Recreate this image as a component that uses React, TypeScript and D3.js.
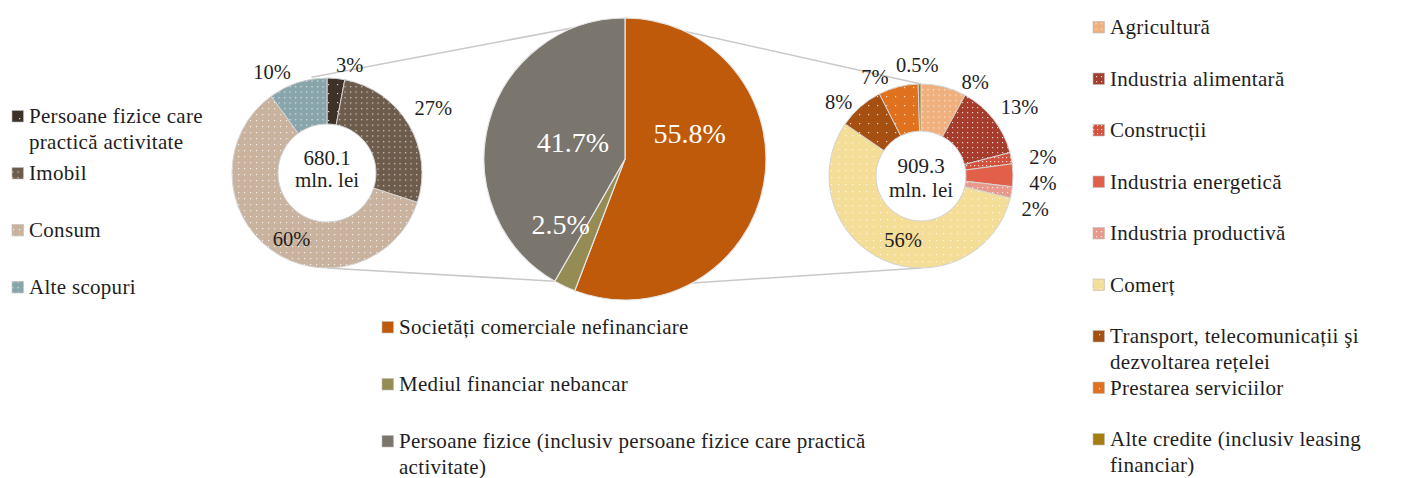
import { useEffect, useRef } from "react";
import * as d3 from "d3";

const W = 1402;
const H = 478;
const FONT = "'Liberation Serif', 'DejaVu Serif', serif";
const LEG_SIZE = 21;
const LEG_LS = 0.3;

// central pie: structure of loans by borrower
const mainCats = [
  "Societăți comerciale nefinanciare",
  "Mediul financiar nebancar",
  "Persoane fizice (inclusiv persoane fizice care practică activitate)",
];
const mainValues = [55.8, 2.5, 41.7];
const mainLabels = ["55.8%", "2.5%", "41.7%"];

// left donut: loans to individuals
const persCats = ["Persoane fizice care practică activitate", "Imobil", "Consum", "Alte scopuri"];
const persValues = [3, 27, 60, 10];
const persLabels = ["3%", "27%", "60%", "10%"];
const persTotal = "680.1";

// right donut: loans to companies
const compCats = [
  "Agricultură",
  "Industria alimentară",
  "Construcții",
  "Industria energetică",
  "Industria productivă",
  "Comerț",
  "Transport, telecomunicații şi dezvoltarea rețelei",
  "Prestarea serviciilor",
  "Alte credite (inclusiv leasing financiar)",
];
const compValues = [8, 13, 2, 4, 2, 56, 8, 7, 0.5];
const compLabels = ["8%", "13%", "2%", "4%", "2%", "56%", "8%", "7%", "0.5%"];
const compTotal = "909.3";
const unit = "mln. lei";

// styles
const mainColors = ["#c05a0b", "#958b55", "#7a766d"];
const persColors = ["#3e3128", "#6d5b4b", "#c9b29e", "#88a5ab"];
const persDots = [9, 5.5, 6, 5.5];
const compColors = ["#efb07e", "#a63c2b", "#d4503b", "#e2604a", "#e8998c", "#f3dd97", "#a54f10", "#e0711f", "#a57c10"];
const compDots = [5.5, 5, 4, 0, 5, 7, 9, 9, 0];

// label nudges (dx, dy) from the arc centroids
const mainNudge = [[-19, -41], [-28, -11], [30, 5]];
const persNudge = [[12, 4], [9, -7], [31, -25], [-20, 6]];
const compNudge = [[27, 13], [12, -1], [14, 2], [12, 8], [6, 13], [27, -36], [-10, 9], [-19, 8], [-2, -1]];

const measureCtx = typeof document !== "undefined" ? document.createElement("canvas").getContext("2d") : null;
function wrap(text: string, maxW: number) {
  if (!measureCtx) return [text];
  measureCtx.font = `${LEG_SIZE}px 'Liberation Serif'`;
  const width = (t: string) => measureCtx.measureText(t).width + t.length * LEG_LS;
  const words = text.split(" ");
  const lines: string[] = [];
  let cur = "";
  words.forEach((w) => {
    const t = cur ? cur + " " + w : w;
    if (width(t) > maxW && cur) {
      lines.push(cur);
      cur = w;
    } else cur = t;
  });
  if (cur) lines.push(cur);
  return lines;
}

function pt(cx: number, cy: number, r: number, a: number): [number, number] {
  return [cx + r * Math.sin(a), cy - r * Math.cos(a)];
}

export default function App() {
  const ref = useRef<SVGSVGElement>(null);

  useEffect(() => {
    document.body.style.margin = "0";
    const svg = d3.select(ref.current);
    svg.selectAll("*").remove();

    const defs = svg.append("defs");
    const fillFor = (id: string, color: string, step: number) => {
      if (!step) return color;
      const p = defs.append("pattern")
        .attr("id", id)
        .attr("patternUnits", "userSpaceOnUse")
        .attr("width", step)
        .attr("height", step);
      p.append("rect").attr("width", step).attr("height", step).attr("fill", color);
      p.append("rect").attr("x", 1).attr("y", 1).attr("width", 1.2).attr("height", 1.2)
        .attr("fill", "#fff").attr("opacity", 0.8);
      return `url(#${id})`;
    };
    const persFill = persColors.map((c, i) => fillFor("pf" + i, c, persDots[i]));
    const compFill = compColors.map((c, i) => fillFor("cf" + i, c, compDots[i]));

    const pie = d3.pie<number>().sort(null).value((d) => d);

    const main = { cx: 625, cy: 159, r: 141 };
    const left = { cx: 327, cy: 173, r: 95, ri: 49 };
    const right = { cx: 921, cy: 176, r: 92, ri: 45 };

    const mainArcs = pie(mainValues);
    const persArcs = pie(persValues);
    const compArcs = pie(compValues);

    // connector lines
    const conn = svg.append("g").attr("stroke", "#c9c9c9").attr("stroke-width", 1.6);
    const lines = [
      [pt(main.cx, main.cy, main.r, mainArcs[2].endAngle), pt(left.cx, left.cy, left.r + 2, -0.16)],
      [pt(main.cx, main.cy, main.r, mainArcs[2].startAngle), pt(left.cx, left.cy, left.r, Math.PI)],
      [pt(main.cx, main.cy, main.r, mainArcs[0].startAngle), pt(right.cx, right.cy, right.r, 0)],
      [pt(main.cx, main.cy, main.r, mainArcs[0].endAngle), pt(right.cx, right.cy, right.r, Math.PI)],
    ];
    lines.forEach(([a, b]) => {
      conn.append("line").attr("x1", a[0]).attr("y1", a[1]).attr("x2", b[0]).attr("y2", b[1]);
    });

    // central pie
    const mArc = d3.arc<d3.PieArcDatum<number>>().innerRadius(0).outerRadius(main.r);
    const mLab = d3.arc<d3.PieArcDatum<number>>().innerRadius(85).outerRadius(85);
    const gm = svg.append("g").attr("transform", `translate(${main.cx},${main.cy})`);
    gm.selectAll("path").data(mainArcs).join("path")
      .attr("d", mArc)
      .attr("fill", (_, i) => mainColors[i])
      .attr("stroke", "#e6e6e6").attr("stroke-width", 1.2);
    gm.selectAll("text").data(mainArcs).join("text")
      .attr("x", (d, i) => mLab.centroid(d)[0] + mainNudge[i][0])
      .attr("y", (d, i) => mLab.centroid(d)[1] + mainNudge[i][1])
      .attr("text-anchor", "middle").attr("dominant-baseline", "central")
      .attr("font-family", FONT).attr("font-size", 28).attr("fill", "#fff")
      .text((_, i) => mainLabels[i]);

    // donuts
    const donut = (
      c: { cx: number; cy: number; r: number; ri: number },
      arcs: d3.PieArcDatum<number>[], fills: string[], labels: string[],
      nudge: number[][], total: string, dy: [number, number]
    ) => {
      const arc = d3.arc<d3.PieArcDatum<number>>().innerRadius(c.ri).outerRadius(c.r);
      const lab = d3.arc<d3.PieArcDatum<number>>().innerRadius(c.r + 18).outerRadius(c.r + 18);
      const g = svg.append("g").attr("transform", `translate(${c.cx},${c.cy})`);
      g.selectAll("path").data(arcs).join("path")
        .attr("d", arc)
        .attr("fill", (_, i) => fills[i])
        .attr("stroke", "#d4d4d4").attr("stroke-width", 1);
      g.selectAll("text.lab").data(arcs).join("text")
        .attr("class", "lab")
        .attr("x", (d, i) => lab.centroid(d)[0] + nudge[i][0])
        .attr("y", (d, i) => lab.centroid(d)[1] + nudge[i][1])
        .attr("text-anchor", "middle").attr("dominant-baseline", "central")
        .attr("font-family", FONT).attr("font-size", 20.5).attr("fill", "#1e1e1e")
        .text((_, i) => labels[i]);
      [total, unit].forEach((t, i) => {
        g.append("text").attr("x", 0).attr("y", dy[i])
          .attr("text-anchor", "middle")
          .attr("font-family", FONT).attr("font-size", 21).attr("fill", "#1e1e1e")
          .text(t);
      });
    };
    donut(left, persArcs, persFill, persLabels, persNudge, persTotal, [-8, 14]);
    donut(right, compArcs, compFill, compLabels, compNudge, compTotal, [-3, 21]);

    // legends
    const legend = (
      cats: string[], fills: string[], x: number, y0: number, slot: number,
      lh: number, maxW: number
    ) => {
      const g = svg.append("g");
      cats.forEach((cat, i) => {
        const y = y0 + i * slot;
        g.append("rect").attr("x", x).attr("y", y - 12.5).attr("width", 11.5).attr("height", 11.5)
          .attr("fill", fills[i]).attr("stroke", "#bdbdbd").attr("stroke-width", 0.6);
        wrap(cat, maxW).forEach((ln, j) => {
          g.append("text").attr("x", x + 17).attr("y", y + j * lh)
            .attr("font-family", FONT).attr("font-size", LEG_SIZE)
            .attr("letter-spacing", LEG_LS).attr("fill", "#1e1e1e")
            .text(ln);
        });
      });
    };
    legend(persCats, persFill, 12, 123, 57, 26, 210);
    legend(mainCats, mainColors, 382, 334, 57, 26, 500);
    legend(compCats, compFill, 1093, 34, 51.5, 25.5, 300);
  }, []);

  return <svg ref={ref} width={W} height={H} style={{ display: "block", background: "#fff" }} />;
}
